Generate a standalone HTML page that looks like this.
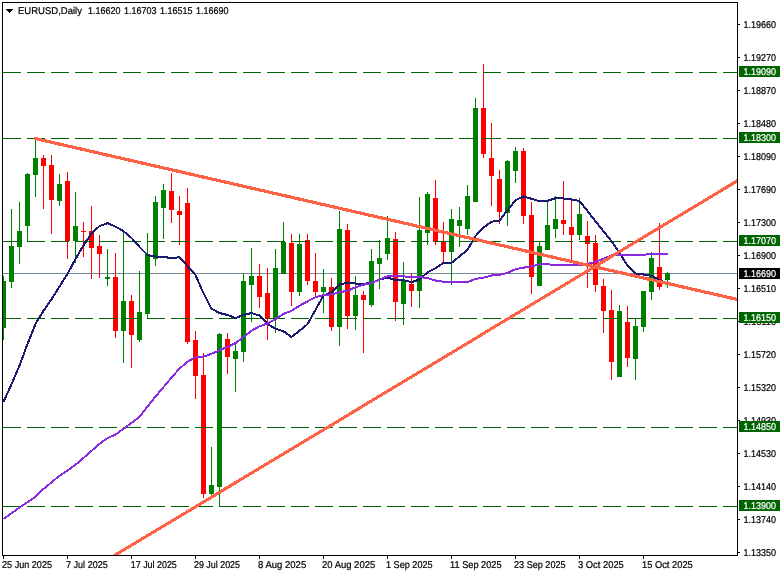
<!DOCTYPE html>
<html lang="en"><head><meta charset="utf-8"><title>EURUSD,Daily</title>
<style>html,body{margin:0;padding:0;background:#fff;overflow:hidden}svg{display:block}text{font-family:"Liberation Sans",sans-serif;font-size:9px;stroke:#000;stroke-width:0.2;text-rendering:geometricPrecision}</style>
</head><body>
<svg width="783" height="576" viewBox="0 0 783 576">
<rect width="783" height="576" fill="#fff"/>
<defs><clipPath id="c"><rect x="3" y="3" width="734" height="552"/></clipPath></defs>
<g clip-path="url(#c)" shape-rendering="crispEdges">
<rect x="3" y="273" width="734" height="1" fill="#778899"/>
<rect x="3" y="276" width="1" height="64" fill="#008000"/>
<rect x="1" y="281" width="5" height="47" fill="#008000"/>
<rect x="11" y="209" width="1" height="79" fill="#008000"/>
<rect x="9" y="246" width="5" height="36" fill="#008000"/>
<rect x="19" y="202" width="1" height="62" fill="#008000"/>
<rect x="17" y="231" width="5" height="16" fill="#008000"/>
<rect x="27" y="173" width="1" height="68" fill="#008000"/>
<rect x="25" y="174" width="5" height="52" fill="#008000"/>
<rect x="35" y="138" width="1" height="59" fill="#008000"/>
<rect x="33" y="158" width="5" height="17" fill="#008000"/>
<rect x="43" y="155" width="1" height="54" fill="#ff0000"/>
<rect x="41" y="158" width="5" height="8" fill="#ff0000"/>
<rect x="51" y="155" width="1" height="79" fill="#ff0000"/>
<rect x="49" y="165" width="5" height="35" fill="#ff0000"/>
<rect x="59" y="174" width="1" height="32" fill="#008000"/>
<rect x="57" y="184" width="5" height="17" fill="#008000"/>
<rect x="67" y="172" width="1" height="87" fill="#ff0000"/>
<rect x="65" y="181" width="5" height="60" fill="#ff0000"/>
<rect x="75" y="192" width="1" height="71" fill="#008000"/>
<rect x="73" y="226" width="5" height="15" fill="#008000"/>
<rect x="83" y="222" width="1" height="35" fill="#ff0000"/>
<rect x="81" y="231" width="5" height="1" fill="#ff0000"/>
<rect x="91" y="206" width="1" height="73" fill="#ff0000"/>
<rect x="89" y="231" width="5" height="17" fill="#ff0000"/>
<rect x="99" y="235" width="1" height="43" fill="#ff0000"/>
<rect x="97" y="246" width="5" height="8" fill="#ff0000"/>
<rect x="107" y="249" width="1" height="37" fill="#008000"/>
<rect x="105" y="277" width="5" height="2" fill="#008000"/>
<rect x="115" y="253" width="1" height="85" fill="#ff0000"/>
<rect x="113" y="277" width="5" height="54" fill="#ff0000"/>
<rect x="123" y="232" width="1" height="131" fill="#008000"/>
<rect x="121" y="301" width="5" height="30" fill="#008000"/>
<rect x="131" y="295" width="1" height="73" fill="#ff0000"/>
<rect x="129" y="301" width="5" height="34" fill="#ff0000"/>
<rect x="139" y="271" width="1" height="71" fill="#008000"/>
<rect x="137" y="312" width="5" height="28" fill="#008000"/>
<rect x="147" y="233" width="1" height="85" fill="#008000"/>
<rect x="145" y="254" width="5" height="60" fill="#008000"/>
<rect x="155" y="196" width="1" height="70" fill="#008000"/>
<rect x="153" y="202" width="5" height="57" fill="#008000"/>
<rect x="163" y="184" width="1" height="55" fill="#008000"/>
<rect x="161" y="190" width="5" height="18" fill="#008000"/>
<rect x="171" y="173" width="1" height="50" fill="#ff0000"/>
<rect x="169" y="191" width="5" height="19" fill="#ff0000"/>
<rect x="179" y="196" width="1" height="49" fill="#ff0000"/>
<rect x="177" y="211" width="5" height="4" fill="#ff0000"/>
<rect x="187" y="188" width="1" height="156" fill="#ff0000"/>
<rect x="185" y="203" width="5" height="139" fill="#ff0000"/>
<rect x="195" y="331" width="1" height="68" fill="#ff0000"/>
<rect x="193" y="340" width="5" height="36" fill="#ff0000"/>
<rect x="203" y="353" width="1" height="145" fill="#ff0000"/>
<rect x="201" y="375" width="5" height="119" fill="#ff0000"/>
<rect x="211" y="447" width="1" height="48" fill="#008000"/>
<rect x="209" y="485" width="5" height="9" fill="#008000"/>
<rect x="219" y="333" width="1" height="173" fill="#008000"/>
<rect x="217" y="334" width="5" height="153" fill="#008000"/>
<rect x="227" y="333" width="1" height="41" fill="#ff0000"/>
<rect x="225" y="339" width="5" height="18" fill="#ff0000"/>
<rect x="235" y="344" width="1" height="48" fill="#008000"/>
<rect x="233" y="351" width="5" height="8" fill="#008000"/>
<rect x="243" y="273" width="1" height="89" fill="#008000"/>
<rect x="241" y="281" width="5" height="71" fill="#008000"/>
<rect x="251" y="248" width="1" height="74" fill="#008000"/>
<rect x="249" y="276" width="5" height="9" fill="#008000"/>
<rect x="259" y="264" width="1" height="44" fill="#ff0000"/>
<rect x="257" y="276" width="5" height="21" fill="#ff0000"/>
<rect x="267" y="268" width="1" height="72" fill="#ff0000"/>
<rect x="265" y="293" width="5" height="26" fill="#ff0000"/>
<rect x="275" y="249" width="1" height="84" fill="#008000"/>
<rect x="273" y="268" width="5" height="51" fill="#008000"/>
<rect x="283" y="222" width="1" height="52" fill="#008000"/>
<rect x="281" y="242" width="5" height="32" fill="#008000"/>
<rect x="291" y="234" width="1" height="72" fill="#ff0000"/>
<rect x="289" y="243" width="5" height="49" fill="#ff0000"/>
<rect x="299" y="234" width="1" height="62" fill="#008000"/>
<rect x="297" y="244" width="5" height="48" fill="#008000"/>
<rect x="307" y="234" width="1" height="51" fill="#ff0000"/>
<rect x="305" y="240" width="5" height="41" fill="#ff0000"/>
<rect x="315" y="253" width="1" height="43" fill="#ff0000"/>
<rect x="313" y="281" width="5" height="11" fill="#ff0000"/>
<rect x="323" y="269" width="1" height="44" fill="#008000"/>
<rect x="321" y="287" width="5" height="5" fill="#008000"/>
<rect x="331" y="278" width="1" height="53" fill="#ff0000"/>
<rect x="329" y="287" width="5" height="40" fill="#ff0000"/>
<rect x="339" y="211" width="1" height="135" fill="#008000"/>
<rect x="337" y="229" width="5" height="98" fill="#008000"/>
<rect x="347" y="224" width="1" height="105" fill="#ff0000"/>
<rect x="345" y="230" width="5" height="86" fill="#ff0000"/>
<rect x="355" y="276" width="1" height="54" fill="#008000"/>
<rect x="353" y="295" width="5" height="21" fill="#008000"/>
<rect x="363" y="291" width="1" height="62" fill="#ff0000"/>
<rect x="361" y="295" width="5" height="5" fill="#ff0000"/>
<rect x="371" y="249" width="1" height="58" fill="#008000"/>
<rect x="369" y="261" width="5" height="44" fill="#008000"/>
<rect x="379" y="240" width="1" height="49" fill="#008000"/>
<rect x="377" y="258" width="5" height="6" fill="#008000"/>
<rect x="387" y="216" width="1" height="44" fill="#008000"/>
<rect x="385" y="238" width="5" height="16" fill="#008000"/>
<rect x="395" y="232" width="1" height="89" fill="#ff0000"/>
<rect x="393" y="239" width="5" height="63" fill="#ff0000"/>
<rect x="403" y="262" width="1" height="63" fill="#008000"/>
<rect x="401" y="281" width="5" height="23" fill="#008000"/>
<rect x="411" y="273" width="1" height="34" fill="#ff0000"/>
<rect x="409" y="284" width="5" height="7" fill="#ff0000"/>
<rect x="419" y="197" width="1" height="111" fill="#008000"/>
<rect x="417" y="230" width="5" height="61" fill="#008000"/>
<rect x="427" y="192" width="1" height="53" fill="#008000"/>
<rect x="425" y="194" width="5" height="39" fill="#008000"/>
<rect x="435" y="180" width="1" height="65" fill="#ff0000"/>
<rect x="433" y="198" width="5" height="44" fill="#ff0000"/>
<rect x="443" y="222" width="1" height="40" fill="#ff0000"/>
<rect x="441" y="242" width="5" height="10" fill="#ff0000"/>
<rect x="451" y="209" width="1" height="76" fill="#008000"/>
<rect x="449" y="219" width="5" height="33" fill="#008000"/>
<rect x="459" y="207" width="1" height="40" fill="#008000"/>
<rect x="457" y="220" width="5" height="6" fill="#008000"/>
<rect x="467" y="185" width="1" height="50" fill="#008000"/>
<rect x="465" y="196" width="5" height="33" fill="#008000"/>
<rect x="475" y="98" width="1" height="104" fill="#008000"/>
<rect x="473" y="108" width="5" height="94" fill="#008000"/>
<rect x="483" y="64" width="1" height="94" fill="#ff0000"/>
<rect x="481" y="108" width="5" height="46" fill="#ff0000"/>
<rect x="491" y="123" width="1" height="83" fill="#ff0000"/>
<rect x="489" y="158" width="5" height="18" fill="#ff0000"/>
<rect x="499" y="170" width="1" height="54" fill="#ff0000"/>
<rect x="497" y="179" width="5" height="33" fill="#ff0000"/>
<rect x="507" y="160" width="1" height="66" fill="#008000"/>
<rect x="505" y="161" width="5" height="52" fill="#008000"/>
<rect x="515" y="147" width="1" height="36" fill="#008000"/>
<rect x="513" y="151" width="5" height="20" fill="#008000"/>
<rect x="523" y="148" width="1" height="76" fill="#ff0000"/>
<rect x="521" y="151" width="5" height="65" fill="#ff0000"/>
<rect x="531" y="202" width="1" height="92" fill="#ff0000"/>
<rect x="529" y="215" width="5" height="62" fill="#ff0000"/>
<rect x="539" y="242" width="1" height="44" fill="#008000"/>
<rect x="537" y="246" width="5" height="40" fill="#008000"/>
<rect x="547" y="200" width="1" height="50" fill="#008000"/>
<rect x="545" y="225" width="5" height="25" fill="#008000"/>
<rect x="555" y="196" width="1" height="42" fill="#008000"/>
<rect x="553" y="219" width="5" height="10" fill="#008000"/>
<rect x="563" y="181" width="1" height="54" fill="#ff0000"/>
<rect x="561" y="220" width="5" height="4" fill="#ff0000"/>
<rect x="571" y="200" width="1" height="60" fill="#ff0000"/>
<rect x="569" y="227" width="5" height="8" fill="#ff0000"/>
<rect x="579" y="198" width="1" height="42" fill="#008000"/>
<rect x="577" y="214" width="5" height="21" fill="#008000"/>
<rect x="587" y="221" width="1" height="67" fill="#ff0000"/>
<rect x="585" y="236" width="5" height="8" fill="#ff0000"/>
<rect x="595" y="235" width="1" height="57" fill="#ff0000"/>
<rect x="593" y="243" width="5" height="42" fill="#ff0000"/>
<rect x="603" y="279" width="1" height="54" fill="#ff0000"/>
<rect x="601" y="286" width="5" height="25" fill="#ff0000"/>
<rect x="611" y="290" width="1" height="90" fill="#ff0000"/>
<rect x="609" y="310" width="5" height="52" fill="#ff0000"/>
<rect x="619" y="305" width="1" height="72" fill="#008000"/>
<rect x="617" y="311" width="5" height="66" fill="#008000"/>
<rect x="627" y="306" width="1" height="61" fill="#ff0000"/>
<rect x="625" y="322" width="5" height="36" fill="#ff0000"/>
<rect x="635" y="318" width="1" height="62" fill="#008000"/>
<rect x="633" y="326" width="5" height="33" fill="#008000"/>
<rect x="643" y="291" width="1" height="41" fill="#008000"/>
<rect x="641" y="291" width="5" height="36" fill="#008000"/>
<rect x="651" y="252" width="1" height="48" fill="#008000"/>
<rect x="649" y="258" width="5" height="34" fill="#008000"/>
<rect x="659" y="223" width="1" height="67" fill="#ff0000"/>
<rect x="657" y="267" width="5" height="20" fill="#ff0000"/>
<rect x="667" y="272" width="1" height="16" fill="#008000"/>
<rect x="665" y="273" width="5" height="7" fill="#008000"/>
<rect x="3" y="72" width="18" height="1" fill="#006400"/>
<rect x="27" y="72" width="18" height="1" fill="#006400"/>
<rect x="51" y="72" width="18" height="1" fill="#006400"/>
<rect x="75" y="72" width="18" height="1" fill="#006400"/>
<rect x="99" y="72" width="18" height="1" fill="#006400"/>
<rect x="123" y="72" width="18" height="1" fill="#006400"/>
<rect x="147" y="72" width="18" height="1" fill="#006400"/>
<rect x="171" y="72" width="18" height="1" fill="#006400"/>
<rect x="195" y="72" width="18" height="1" fill="#006400"/>
<rect x="219" y="72" width="18" height="1" fill="#006400"/>
<rect x="243" y="72" width="18" height="1" fill="#006400"/>
<rect x="267" y="72" width="18" height="1" fill="#006400"/>
<rect x="291" y="72" width="18" height="1" fill="#006400"/>
<rect x="315" y="72" width="18" height="1" fill="#006400"/>
<rect x="339" y="72" width="18" height="1" fill="#006400"/>
<rect x="363" y="72" width="18" height="1" fill="#006400"/>
<rect x="387" y="72" width="18" height="1" fill="#006400"/>
<rect x="411" y="72" width="18" height="1" fill="#006400"/>
<rect x="435" y="72" width="18" height="1" fill="#006400"/>
<rect x="459" y="72" width="18" height="1" fill="#006400"/>
<rect x="483" y="72" width="18" height="1" fill="#006400"/>
<rect x="507" y="72" width="18" height="1" fill="#006400"/>
<rect x="531" y="72" width="18" height="1" fill="#006400"/>
<rect x="555" y="72" width="18" height="1" fill="#006400"/>
<rect x="579" y="72" width="18" height="1" fill="#006400"/>
<rect x="603" y="72" width="18" height="1" fill="#006400"/>
<rect x="627" y="72" width="18" height="1" fill="#006400"/>
<rect x="651" y="72" width="18" height="1" fill="#006400"/>
<rect x="675" y="72" width="18" height="1" fill="#006400"/>
<rect x="699" y="72" width="18" height="1" fill="#006400"/>
<rect x="723" y="72" width="14" height="1" fill="#006400"/>
<rect x="3" y="138" width="18" height="1" fill="#006400"/>
<rect x="27" y="138" width="18" height="1" fill="#006400"/>
<rect x="51" y="138" width="18" height="1" fill="#006400"/>
<rect x="75" y="138" width="18" height="1" fill="#006400"/>
<rect x="99" y="138" width="18" height="1" fill="#006400"/>
<rect x="123" y="138" width="18" height="1" fill="#006400"/>
<rect x="147" y="138" width="18" height="1" fill="#006400"/>
<rect x="171" y="138" width="18" height="1" fill="#006400"/>
<rect x="195" y="138" width="18" height="1" fill="#006400"/>
<rect x="219" y="138" width="18" height="1" fill="#006400"/>
<rect x="243" y="138" width="18" height="1" fill="#006400"/>
<rect x="267" y="138" width="18" height="1" fill="#006400"/>
<rect x="291" y="138" width="18" height="1" fill="#006400"/>
<rect x="315" y="138" width="18" height="1" fill="#006400"/>
<rect x="339" y="138" width="18" height="1" fill="#006400"/>
<rect x="363" y="138" width="18" height="1" fill="#006400"/>
<rect x="387" y="138" width="18" height="1" fill="#006400"/>
<rect x="411" y="138" width="18" height="1" fill="#006400"/>
<rect x="435" y="138" width="18" height="1" fill="#006400"/>
<rect x="459" y="138" width="18" height="1" fill="#006400"/>
<rect x="483" y="138" width="18" height="1" fill="#006400"/>
<rect x="507" y="138" width="18" height="1" fill="#006400"/>
<rect x="531" y="138" width="18" height="1" fill="#006400"/>
<rect x="555" y="138" width="18" height="1" fill="#006400"/>
<rect x="579" y="138" width="18" height="1" fill="#006400"/>
<rect x="603" y="138" width="18" height="1" fill="#006400"/>
<rect x="627" y="138" width="18" height="1" fill="#006400"/>
<rect x="651" y="138" width="18" height="1" fill="#006400"/>
<rect x="675" y="138" width="18" height="1" fill="#006400"/>
<rect x="699" y="138" width="18" height="1" fill="#006400"/>
<rect x="723" y="138" width="14" height="1" fill="#006400"/>
<rect x="3" y="241" width="18" height="1" fill="#006400"/>
<rect x="27" y="241" width="18" height="1" fill="#006400"/>
<rect x="51" y="241" width="18" height="1" fill="#006400"/>
<rect x="75" y="241" width="18" height="1" fill="#006400"/>
<rect x="99" y="241" width="18" height="1" fill="#006400"/>
<rect x="123" y="241" width="18" height="1" fill="#006400"/>
<rect x="147" y="241" width="18" height="1" fill="#006400"/>
<rect x="171" y="241" width="18" height="1" fill="#006400"/>
<rect x="195" y="241" width="18" height="1" fill="#006400"/>
<rect x="219" y="241" width="18" height="1" fill="#006400"/>
<rect x="243" y="241" width="18" height="1" fill="#006400"/>
<rect x="267" y="241" width="18" height="1" fill="#006400"/>
<rect x="291" y="241" width="18" height="1" fill="#006400"/>
<rect x="315" y="241" width="18" height="1" fill="#006400"/>
<rect x="339" y="241" width="18" height="1" fill="#006400"/>
<rect x="363" y="241" width="18" height="1" fill="#006400"/>
<rect x="387" y="241" width="18" height="1" fill="#006400"/>
<rect x="411" y="241" width="18" height="1" fill="#006400"/>
<rect x="435" y="241" width="18" height="1" fill="#006400"/>
<rect x="459" y="241" width="18" height="1" fill="#006400"/>
<rect x="483" y="241" width="18" height="1" fill="#006400"/>
<rect x="507" y="241" width="18" height="1" fill="#006400"/>
<rect x="531" y="241" width="18" height="1" fill="#006400"/>
<rect x="555" y="241" width="18" height="1" fill="#006400"/>
<rect x="579" y="241" width="18" height="1" fill="#006400"/>
<rect x="603" y="241" width="18" height="1" fill="#006400"/>
<rect x="627" y="241" width="18" height="1" fill="#006400"/>
<rect x="651" y="241" width="18" height="1" fill="#006400"/>
<rect x="675" y="241" width="18" height="1" fill="#006400"/>
<rect x="699" y="241" width="18" height="1" fill="#006400"/>
<rect x="723" y="241" width="14" height="1" fill="#006400"/>
<rect x="3" y="318" width="18" height="1" fill="#006400"/>
<rect x="27" y="318" width="18" height="1" fill="#006400"/>
<rect x="51" y="318" width="18" height="1" fill="#006400"/>
<rect x="75" y="318" width="18" height="1" fill="#006400"/>
<rect x="99" y="318" width="18" height="1" fill="#006400"/>
<rect x="123" y="318" width="18" height="1" fill="#006400"/>
<rect x="147" y="318" width="18" height="1" fill="#006400"/>
<rect x="171" y="318" width="18" height="1" fill="#006400"/>
<rect x="195" y="318" width="18" height="1" fill="#006400"/>
<rect x="219" y="318" width="18" height="1" fill="#006400"/>
<rect x="243" y="318" width="18" height="1" fill="#006400"/>
<rect x="267" y="318" width="18" height="1" fill="#006400"/>
<rect x="291" y="318" width="18" height="1" fill="#006400"/>
<rect x="315" y="318" width="18" height="1" fill="#006400"/>
<rect x="339" y="318" width="18" height="1" fill="#006400"/>
<rect x="363" y="318" width="18" height="1" fill="#006400"/>
<rect x="387" y="318" width="18" height="1" fill="#006400"/>
<rect x="411" y="318" width="18" height="1" fill="#006400"/>
<rect x="435" y="318" width="18" height="1" fill="#006400"/>
<rect x="459" y="318" width="18" height="1" fill="#006400"/>
<rect x="483" y="318" width="18" height="1" fill="#006400"/>
<rect x="507" y="318" width="18" height="1" fill="#006400"/>
<rect x="531" y="318" width="18" height="1" fill="#006400"/>
<rect x="555" y="318" width="18" height="1" fill="#006400"/>
<rect x="579" y="318" width="18" height="1" fill="#006400"/>
<rect x="603" y="318" width="18" height="1" fill="#006400"/>
<rect x="627" y="318" width="18" height="1" fill="#006400"/>
<rect x="651" y="318" width="18" height="1" fill="#006400"/>
<rect x="675" y="318" width="18" height="1" fill="#006400"/>
<rect x="699" y="318" width="18" height="1" fill="#006400"/>
<rect x="723" y="318" width="14" height="1" fill="#006400"/>
<rect x="3" y="427" width="18" height="1" fill="#006400"/>
<rect x="27" y="427" width="18" height="1" fill="#006400"/>
<rect x="51" y="427" width="18" height="1" fill="#006400"/>
<rect x="75" y="427" width="18" height="1" fill="#006400"/>
<rect x="99" y="427" width="18" height="1" fill="#006400"/>
<rect x="123" y="427" width="18" height="1" fill="#006400"/>
<rect x="147" y="427" width="18" height="1" fill="#006400"/>
<rect x="171" y="427" width="18" height="1" fill="#006400"/>
<rect x="195" y="427" width="18" height="1" fill="#006400"/>
<rect x="219" y="427" width="18" height="1" fill="#006400"/>
<rect x="243" y="427" width="18" height="1" fill="#006400"/>
<rect x="267" y="427" width="18" height="1" fill="#006400"/>
<rect x="291" y="427" width="18" height="1" fill="#006400"/>
<rect x="315" y="427" width="18" height="1" fill="#006400"/>
<rect x="339" y="427" width="18" height="1" fill="#006400"/>
<rect x="363" y="427" width="18" height="1" fill="#006400"/>
<rect x="387" y="427" width="18" height="1" fill="#006400"/>
<rect x="411" y="427" width="18" height="1" fill="#006400"/>
<rect x="435" y="427" width="18" height="1" fill="#006400"/>
<rect x="459" y="427" width="18" height="1" fill="#006400"/>
<rect x="483" y="427" width="18" height="1" fill="#006400"/>
<rect x="507" y="427" width="18" height="1" fill="#006400"/>
<rect x="531" y="427" width="18" height="1" fill="#006400"/>
<rect x="555" y="427" width="18" height="1" fill="#006400"/>
<rect x="579" y="427" width="18" height="1" fill="#006400"/>
<rect x="603" y="427" width="18" height="1" fill="#006400"/>
<rect x="627" y="427" width="18" height="1" fill="#006400"/>
<rect x="651" y="427" width="18" height="1" fill="#006400"/>
<rect x="675" y="427" width="18" height="1" fill="#006400"/>
<rect x="699" y="427" width="18" height="1" fill="#006400"/>
<rect x="723" y="427" width="14" height="1" fill="#006400"/>
<rect x="3" y="506" width="18" height="1" fill="#006400"/>
<rect x="27" y="506" width="18" height="1" fill="#006400"/>
<rect x="51" y="506" width="18" height="1" fill="#006400"/>
<rect x="75" y="506" width="18" height="1" fill="#006400"/>
<rect x="99" y="506" width="18" height="1" fill="#006400"/>
<rect x="123" y="506" width="18" height="1" fill="#006400"/>
<rect x="147" y="506" width="18" height="1" fill="#006400"/>
<rect x="171" y="506" width="18" height="1" fill="#006400"/>
<rect x="195" y="506" width="18" height="1" fill="#006400"/>
<rect x="219" y="506" width="18" height="1" fill="#006400"/>
<rect x="243" y="506" width="18" height="1" fill="#006400"/>
<rect x="267" y="506" width="18" height="1" fill="#006400"/>
<rect x="291" y="506" width="18" height="1" fill="#006400"/>
<rect x="315" y="506" width="18" height="1" fill="#006400"/>
<rect x="339" y="506" width="18" height="1" fill="#006400"/>
<rect x="363" y="506" width="18" height="1" fill="#006400"/>
<rect x="387" y="506" width="18" height="1" fill="#006400"/>
<rect x="411" y="506" width="18" height="1" fill="#006400"/>
<rect x="435" y="506" width="18" height="1" fill="#006400"/>
<rect x="459" y="506" width="18" height="1" fill="#006400"/>
<rect x="483" y="506" width="18" height="1" fill="#006400"/>
<rect x="507" y="506" width="18" height="1" fill="#006400"/>
<rect x="531" y="506" width="18" height="1" fill="#006400"/>
<rect x="555" y="506" width="18" height="1" fill="#006400"/>
<rect x="579" y="506" width="18" height="1" fill="#006400"/>
<rect x="603" y="506" width="18" height="1" fill="#006400"/>
<rect x="627" y="506" width="18" height="1" fill="#006400"/>
<rect x="651" y="506" width="18" height="1" fill="#006400"/>
<rect x="675" y="506" width="18" height="1" fill="#006400"/>
<rect x="699" y="506" width="18" height="1" fill="#006400"/>
<rect x="723" y="506" width="14" height="1" fill="#006400"/>
<polyline points="3.5,401.8 11.5,384.3 19.5,365.5 27.5,344.0 35.5,323.9 43.5,310.8 51.5,299.3 59.5,286.4 67.5,273.9 75.5,259.0 83.5,245.3 91.5,233.4 99.5,226.1 107.5,223.1 115.5,226.6 123.5,231.2 131.5,237.9 139.5,247.0 147.5,255.0 155.5,256.5 163.5,256.5 171.5,258.5 179.5,257.0 187.5,266.0 195.5,275.1 203.5,293.2 211.5,308.7 219.5,313.0 227.5,315.0 235.5,318.1 243.5,315.0 251.5,313.0 259.5,315.5 267.5,324.0 275.5,328.8 283.5,331.3 291.5,337.0 299.5,330.8 307.5,324.2 315.5,309.8 323.5,295.6 331.5,292.3 339.5,284.2 347.5,283.0 355.5,283.5 363.5,283.8 371.5,283.0 379.5,279.5 387.5,277.5 395.5,280.2 403.5,280.2 411.5,282.2 419.5,279.5 427.5,272.4 435.5,268.2 443.5,263.0 451.5,263.0 459.5,256.4 467.5,249.9 475.5,236.0 483.5,227.5 491.5,221.7 499.5,220.5 507.5,210.3 515.5,200.3 523.5,196.5 531.5,198.8 539.5,201.3 547.5,200.8 555.5,198.2 563.5,198.4 571.5,199.5 579.5,200.9 587.5,211.1 595.5,221.2 603.5,231.2 611.5,241.2 619.5,253.0 627.5,265.7 635.5,273.8 643.5,274.5 651.5,275.8 659.5,280.1 667.5,284.1" fill="none" stroke="#191970" stroke-width="2" stroke-linejoin="round"/>
<polyline points="3.5,518.8 11.5,513.3 19.5,507.5 27.5,502.1 35.5,496.8 43.5,488.9 51.5,482.4 59.5,475.7 67.5,470.7 75.5,464.8 83.5,457.9 91.5,450.9 99.5,443.8 107.5,438.1 115.5,434.6 123.5,428.8 131.5,422.8 139.5,416.8 147.5,406.4 155.5,396.6 163.5,387.1 171.5,377.6 179.5,368.6 187.5,361.7 195.5,357.2 203.5,356.7 211.5,353.8 219.5,350.3 227.5,346.9 235.5,343.1 243.5,337.1 251.5,330.7 259.5,326.3 267.5,323.5 275.5,319.0 283.5,313.9 291.5,310.9 299.5,305.7 307.5,301.4 315.5,297.2 323.5,295.1 331.5,294.4 339.5,292.2 347.5,290.8 355.5,287.2 363.5,284.7 371.5,283.0 379.5,279.7 387.5,276.3 395.5,276.3 403.5,276.3 411.5,277.2 419.5,277.2 427.5,278.0 435.5,280.5 443.5,281.7 451.5,282.2 459.5,282.2 467.5,282.2 475.5,278.8 483.5,277.7 491.5,275.5 499.5,274.7 507.5,273.0 515.5,269.2 523.5,267.7 531.5,266.3 539.5,264.3 547.5,264.2 555.5,265.1 563.5,265.2 571.5,265.2 579.5,265.2 587.5,263.8 595.5,262.0 603.5,258.6 611.5,255.5 619.5,255.3 627.5,255.1 635.5,254.9 643.5,254.6 651.5,254.3 659.5,254.3 667.5,254.3 668.1,254.3" fill="none" stroke="#8a2be2" stroke-width="2" stroke-linejoin="round"/>
<line x1="35.5" y1="138.6" x2="737.5" y2="299.5" stroke="#ff6347" stroke-width="3.2" stroke-linecap="round"/>
<line x1="112.5" y1="556.7" x2="737.5" y2="180.7" stroke="#ff6347" stroke-width="3.1"/>
</g>
<g shape-rendering="crispEdges" fill="#000">
<rect x="2" y="2" width="736" height="1"/>
<rect x="2" y="2" width="1" height="554"/>
<rect x="737" y="2" width="1" height="554"/>
<rect x="2" y="555" width="736" height="1"/>
<rect x="738" y="24" width="2" height="1"/>
<rect x="738" y="57" width="2" height="1"/>
<rect x="738" y="90" width="2" height="1"/>
<rect x="738" y="123" width="2" height="1"/>
<rect x="738" y="156" width="2" height="1"/>
<rect x="738" y="189" width="2" height="1"/>
<rect x="738" y="222" width="2" height="1"/>
<rect x="738" y="255" width="2" height="1"/>
<rect x="738" y="288" width="2" height="1"/>
<rect x="738" y="321" width="2" height="1"/>
<rect x="738" y="354" width="2" height="1"/>
<rect x="738" y="387" width="2" height="1"/>
<rect x="738" y="420" width="2" height="1"/>
<rect x="738" y="453" width="2" height="1"/>
<rect x="738" y="486" width="2" height="1"/>
<rect x="738" y="519" width="2" height="1"/>
<rect x="738" y="552" width="2" height="1"/>
<rect x="3" y="556" width="1" height="3"/>
<rect x="67" y="556" width="1" height="3"/>
<rect x="131" y="556" width="1" height="3"/>
<rect x="195" y="556" width="1" height="3"/>
<rect x="259" y="556" width="1" height="3"/>
<rect x="323" y="556" width="1" height="3"/>
<rect x="387" y="556" width="1" height="3"/>
<rect x="451" y="556" width="1" height="3"/>
<rect x="515" y="556" width="1" height="3"/>
<rect x="579" y="556" width="1" height="3"/>
<rect x="643" y="556" width="1" height="3"/>
<polygon points="6,9 13,9 9.5,13"/>
</g>
<g fill="#000">
<text transform="translate(743.5,28) scale(1,1.1)" textLength="32.5" lengthAdjust="spacingAndGlyphs">1.19660</text>
<text transform="translate(743.5,61) scale(1,1.1)" textLength="32.5" lengthAdjust="spacingAndGlyphs">1.19270</text>
<text transform="translate(743.5,94) scale(1,1.1)" textLength="32.5" lengthAdjust="spacingAndGlyphs">1.18870</text>
<text transform="translate(743.5,127) scale(1,1.1)" textLength="32.5" lengthAdjust="spacingAndGlyphs">1.18480</text>
<text transform="translate(743.5,160) scale(1,1.1)" textLength="32.5" lengthAdjust="spacingAndGlyphs">1.18090</text>
<text transform="translate(743.5,193) scale(1,1.1)" textLength="32.5" lengthAdjust="spacingAndGlyphs">1.17690</text>
<text transform="translate(743.5,226) scale(1,1.1)" textLength="32.5" lengthAdjust="spacingAndGlyphs">1.17300</text>
<text transform="translate(743.5,259) scale(1,1.1)" textLength="32.5" lengthAdjust="spacingAndGlyphs">1.16900</text>
<text transform="translate(743.5,292) scale(1,1.1)" textLength="32.5" lengthAdjust="spacingAndGlyphs">1.16510</text>
<text transform="translate(743.5,325) scale(1,1.1)" textLength="32.5" lengthAdjust="spacingAndGlyphs">1.16110</text>
<text transform="translate(743.5,358) scale(1,1.1)" textLength="32.5" lengthAdjust="spacingAndGlyphs">1.15720</text>
<text transform="translate(743.5,391) scale(1,1.1)" textLength="32.5" lengthAdjust="spacingAndGlyphs">1.15320</text>
<text transform="translate(743.5,424) scale(1,1.1)" textLength="32.5" lengthAdjust="spacingAndGlyphs">1.14930</text>
<text transform="translate(743.5,457) scale(1,1.1)" textLength="32.5" lengthAdjust="spacingAndGlyphs">1.14530</text>
<text transform="translate(743.5,490) scale(1,1.1)" textLength="32.5" lengthAdjust="spacingAndGlyphs">1.14140</text>
<text transform="translate(743.5,523) scale(1,1.1)" textLength="32.5" lengthAdjust="spacingAndGlyphs">1.13740</text>
<text transform="translate(743.5,556) scale(1,1.1)" textLength="32.5" lengthAdjust="spacingAndGlyphs">1.13350</text>
<text transform="translate(2.0,568) scale(1,1.1)" textLength="50.0" lengthAdjust="spacingAndGlyphs">25 Jun 2025</text>
<text transform="translate(66.0,568) scale(1,1.1)" textLength="41.8" lengthAdjust="spacingAndGlyphs">7 Jul 2025</text>
<text transform="translate(130.8,568) scale(1,1.1)" textLength="46.0" lengthAdjust="spacingAndGlyphs">17 Jul 2025</text>
<text transform="translate(194.0,568) scale(1,1.1)" textLength="46.0" lengthAdjust="spacingAndGlyphs">29 Jul 2025</text>
<text transform="translate(258.0,568) scale(1,1.1)" textLength="48.2" lengthAdjust="spacingAndGlyphs">8 Aug 2025</text>
<text transform="translate(322.0,568) scale(1,1.1)" textLength="53.2" lengthAdjust="spacingAndGlyphs">20 Aug 2025</text>
<text transform="translate(386.0,568) scale(1,1.1)" textLength="46.6" lengthAdjust="spacingAndGlyphs">1 Sep 2025</text>
<text transform="translate(450.0,568) scale(1,1.1)" textLength="51.6" lengthAdjust="spacingAndGlyphs">11 Sep 2025</text>
<text transform="translate(514.0,568) scale(1,1.1)" textLength="51.6" lengthAdjust="spacingAndGlyphs">23 Sep 2025</text>
<text transform="translate(578.0,568) scale(1,1.1)" textLength="45.8" lengthAdjust="spacingAndGlyphs">3 Oct 2025</text>
<text transform="translate(642.0,568) scale(1,1.1)" textLength="50.8" lengthAdjust="spacingAndGlyphs">15 Oct 2025</text>
<text transform="translate(18,14) scale(1,1.1)" textLength="64" lengthAdjust="spacingAndGlyphs">EURUSD,Daily</text>
<text transform="translate(88,14) scale(1,1.1)" textLength="32.5" lengthAdjust="spacingAndGlyphs">1.16620</text>
<text transform="translate(124,14) scale(1,1.1)" textLength="32.5" lengthAdjust="spacingAndGlyphs">1.16703</text>
<text transform="translate(160,14) scale(1,1.1)" textLength="32.5" lengthAdjust="spacingAndGlyphs">1.16515</text>
<text transform="translate(196,14) scale(1,1.1)" textLength="32.5" lengthAdjust="spacingAndGlyphs">1.16690</text>
</g>
<rect x="739" y="66" width="41" height="11" fill="#006400" shape-rendering="crispEdges"/>
<text transform="translate(743.5,75) scale(1,1.1)" textLength="32.5" lengthAdjust="spacingAndGlyphs" style="fill:#fff;stroke:#fff">1.19090</text>
<rect x="739" y="132" width="41" height="11" fill="#006400" shape-rendering="crispEdges"/>
<text transform="translate(743.5,141) scale(1,1.1)" textLength="32.5" lengthAdjust="spacingAndGlyphs" style="fill:#fff;stroke:#fff">1.18300</text>
<rect x="739" y="235" width="41" height="11" fill="#006400" shape-rendering="crispEdges"/>
<text transform="translate(743.5,244) scale(1,1.1)" textLength="32.5" lengthAdjust="spacingAndGlyphs" style="fill:#fff;stroke:#fff">1.17070</text>
<rect x="739" y="312" width="41" height="11" fill="#006400" shape-rendering="crispEdges"/>
<text transform="translate(743.5,321) scale(1,1.1)" textLength="32.5" lengthAdjust="spacingAndGlyphs" style="fill:#fff;stroke:#fff">1.16150</text>
<rect x="739" y="421" width="41" height="11" fill="#006400" shape-rendering="crispEdges"/>
<text transform="translate(743.5,430) scale(1,1.1)" textLength="32.5" lengthAdjust="spacingAndGlyphs" style="fill:#fff;stroke:#fff">1.14850</text>
<rect x="739" y="500" width="41" height="11" fill="#006400" shape-rendering="crispEdges"/>
<text transform="translate(743.5,509) scale(1,1.1)" textLength="32.5" lengthAdjust="spacingAndGlyphs" style="fill:#fff;stroke:#fff">1.13900</text>
<rect x="739" y="268" width="41" height="11" fill="#000" shape-rendering="crispEdges"/>
<text transform="translate(743.5,277) scale(1,1.1)" textLength="32.5" lengthAdjust="spacingAndGlyphs" style="fill:#fff;stroke:#fff">1.16690</text>
</svg>
</body></html>
